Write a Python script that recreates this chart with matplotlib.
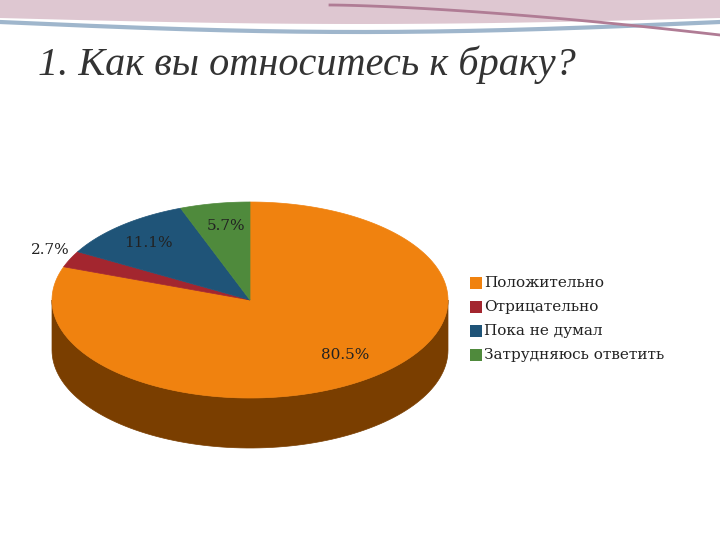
import numpy as np
import matplotlib
matplotlib.use("Agg")
import matplotlib.pyplot as plt
from matplotlib.patches import Polygon, Rectangle

labels = ["Положительно", "Отрицательно", "Пока не думал", "Затрудняюсь ответить"]
values = [80.5, 2.7, 11.1, 5.7]
pct_text = ["80.5%", "2.7%", "11.1%", "5.7%"]
colors = ["#F0820F", "#A3262F", "#1F5478", "#4F8A3C"]
dark = ["#7A3E00", "#5A1418", "#0F2D42", "#2A4B20"]
label_pos = [(345, 355), (50, 250), (148, 243), (226, 226)]

fig = plt.figure(figsize=(7.2, 5.4), dpi=100)
ax = fig.add_axes([0, 0, 1, 1])
ax.set_xlim(0, 720); ax.set_ylim(540, 0); ax.axis("off")

# top decoration
xs = np.linspace(0, 720, 200)
ax.fill_between(xs, 0, 18 + 6*np.sin(xs/720*np.pi), color="#c9a3b3", alpha=0.6, lw=0)
ax.plot(xs, 22 + 10*np.sin(xs/720*np.pi), color="#9fb6cc", lw=3)
ax.plot(np.linspace(330, 720, 100), 5 + 30*((np.linspace(330, 720, 100)-330)/390)**1.5, color="#b07c95", lw=2)

cx, cy, rx, ry, depth = 250, 300, 198, 98, 50
def pt(t):
    r = np.radians(t)
    return cx + rx*np.cos(r), cy - ry*np.sin(r)

total = sum(values)
start = 90.0
slices = []
for v in values:
    end = start - v/total*360
    slices.append((end, start))
    start = end

for (a0, a1), dc in zip(slices, dark):
    for k in range(-1, 2):
        lo = max(a0, 180 + 360*k); hi = min(a1, 360 + 360*k)
        if hi > lo:
            ts = np.linspace(lo, hi, 100)
            x, y = pt(ts)
            poly = np.vstack([np.column_stack([x, y]), np.column_stack([x[::-1], y[::-1] + depth])])
            ax.add_patch(Polygon(poly, closed=True, fc=dc, ec=dc, lw=0.5))

for (a0, a1), c in zip(slices, colors):
    ts = np.linspace(a0, a1, 200)
    x, y = pt(ts)
    poly = np.vstack([[cx, cy], np.column_stack([x, y])])
    ax.add_patch(Polygon(poly, closed=True, fc=c, ec=c, lw=0.5))

for t, (x, y) in zip(pct_text, label_pos):
    ax.text(x, y, t, fontsize=11, family="DejaVu Serif", ha="center", va="center", color="#222")

ax.text(38, 65, "1. Как вы относитесь к браку?", fontsize=29, family="Liberation Serif",
        style="italic", color="#333", va="center")

for i, (l, c) in enumerate(zip(labels, colors)):
    y = 283 + 24*i
    ax.add_patch(Rectangle((470, y - 6), 12, 12, fc=c, ec="none"))
    ax.text(484, y, l, fontsize=11, family="DejaVu Serif", va="center", color="#222")

fig.savefig("out.png", dpi=100)
